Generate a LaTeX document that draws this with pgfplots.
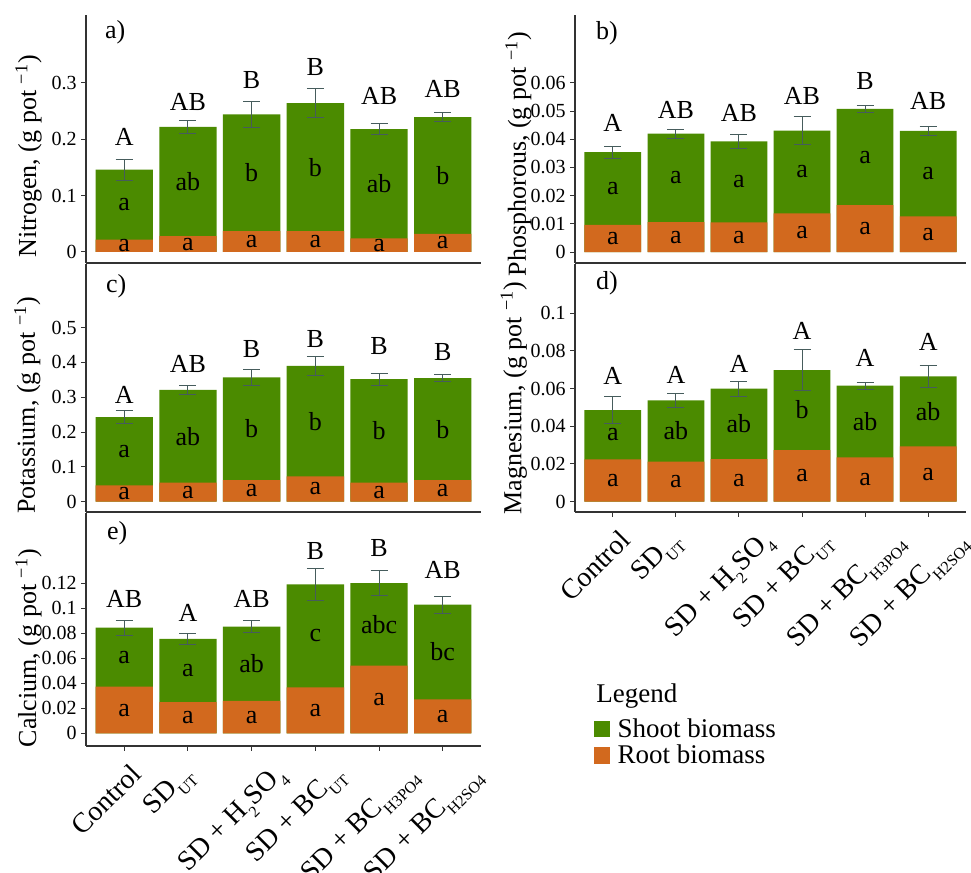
\documentclass[border=0pt]{standalone}
\usepackage{fontspec}
\setmainfont{Liberation Serif}
\usepackage{graphicx}
\usepackage{pgfplots}
\usepackage{pgfplotstable}
\pgfplotsset{compat=1.18}

\definecolor{shoot}{HTML}{4B8B00}
\definecolor{root}{HTML}{D2691E}
\definecolor{errc}{HTML}{465C5C}
\definecolor{axc}{HTML}{333333}

% x  total  root  err  capy  cap  shoot  rl
\pgfplotstableread{
x total root err capy cap shoot rl
1 0.146 0.022 0.0185 0.188 A  a  a
2 0.222 0.028 0.0115 0.251 AB ab a
3 0.244 0.037 0.0225 0.290 B  b  a
4 0.264 0.037 0.0255 0.313 B  b  a
5 0.218 0.024 0.0100 0.262 AB ab a
6 0.239 0.032 0.0085 0.274 AB b  a
}\nitrogen

\pgfplotstableread{
x total root err capy cap shoot rl
1 0.0354 0.0096 0.00220 0.0427 A  a a
2 0.0420 0.0106 0.00155 0.0475 AB a a
3 0.0393 0.0105 0.00255 0.0463 AB a a
4 0.0431 0.0137 0.00500 0.0525 AB a a
5 0.0508 0.0166 0.00135 0.0577 B  a a
6 0.0430 0.0126 0.00165 0.0506 AB a a
}\phosphorus

\pgfplotstableread{
x total root err capy cap shoot rl
1 0.243 0.047 0.0190 0.283 A  a  a
2 0.321 0.055 0.0130 0.372 AB ab a
3 0.357 0.062 0.0225 0.414 B  b  a
4 0.390 0.073 0.0270 0.444 B  b  a
5 0.352 0.055 0.0170 0.423 B  b  a
6 0.355 0.062 0.0105 0.405 B  b  a
}\potassium

\pgfplotstableread{
x total root err capy cap shoot rl
1 0.0486 0.0224 0.0069 0.0622 A a  a
2 0.0537 0.0212 0.0037 0.0627 A ab a
3 0.0599 0.0226 0.0039 0.0684 A ab a
4 0.0698 0.0274 0.0108 0.0860 A b  a
5 0.0615 0.0235 0.0019 0.0716 A ab a
6 0.0664 0.0293 0.0059 0.0804 A ab a
}\magnesium

\pgfplotstableread{
x total root err capy cap shoot rl
1 0.0843 0.0372 0.0058 0.1005 AB a   a
2 0.0755 0.0250 0.0045 0.0891 A  a   a
3 0.0851 0.0260 0.0047 0.1005 AB ab  a
4 0.1189 0.0367 0.0130 0.1391 B  c   a
5 0.1200 0.0540 0.0101 0.1410 B  abc a
6 0.1027 0.0271 0.0068 0.1237 AB bc  a
}\calcium

\newcommand\lab{\fontsize{13}{15}\selectfont}
\newcommand\sub[1]{\raisebox{-0.3em}{\fontsize{8}{8}\selectfont #1}}

\pgfplotsset{
  panel/.style={
    scale only axis, xmin=0.4, xmax=6.6,
    axis x line*=bottom, axis y line*=left,
    axis line style={line width=0.6pt, draw=axc},
    tick align=outside, major tick length=2.5pt,
    every tick/.style={line width=0.5pt, draw=axc},
    scaled y ticks=false,
    yticklabel style={font=\fontsize{10}{12}\selectfont, inner sep=2pt},
    ylabel style={font=\lab, inner sep=0pt, anchor=south},
    clip=false, xtick=\empty,
  },
  % y label position: #1 across, #2 along the axis
  ylabpos/.style 2 args={ylabel style={at={(axis description cs:#1,#2)}}},
  treatments/.style={
    xtick={1,...,6},
    xticklabels={
      \rotatebox{45}{Control},
      \rotatebox{45}{SD\sub{UT}},
      \rotatebox{45}{SD + H\sub{2}SO\sub{4}},
      \rotatebox{45}{SD + BC\sub{UT}},
      \rotatebox{45}{SD + BC\sub{H3PO4}},
      \rotatebox{45}{SD + BC\sub{H2SO4}}},
    xticklabel style={font=\fontsize{14}{16}\selectfont, anchor=north,
      inner sep=0pt, xshift=-9pt, yshift=-5.5pt},
  },
  sqlegend/.style={legend image code/.code={%
      \fill[##1] (0pt,-3pt) rectangle (8.2pt,5.2pt);}},
}

% stacked shoot/root bars, error bars and letter groups of one nutrient
\newcommand\drawpanel[1]{%
  \addplot[ybar, bar width=0.9, bar shift=0pt, fill=shoot, draw=none, sqlegend,
    error bars/.cd, y dir=both, y explicit,
    error bar style={line width=0.5pt, errc},
    error mark options={rotate=90, mark size=4.25pt, line width=0.5pt, errc}]
    table[x=x, y=total, y error=err] {#1};
  \addplot[ybar, bar width=0.9, bar shift=0pt, fill=root, draw=none, sqlegend]
    table[x=x, y=root] {#1};
  \addplot[draw=none, forget plot, nodes near coords, point meta=explicit symbolic,
    nodes near coords style={anchor=base, font=\lab, inner sep=0pt}]
    table[x=x, y=capy, meta=cap] {#1};
  \addplot[draw=none, forget plot, nodes near coords, point meta=explicit symbolic,
    nodes near coords style={anchor=center, font=\lab, inner sep=0pt}]
    table[x=x, y expr={(\thisrow{total}+\thisrow{root})/2}, meta=shoot] {#1};
  \addplot[draw=none, forget plot, nodes near coords, point meta=explicit symbolic,
    nodes near coords style={anchor=center, font=\lab, inner sep=0pt}]
    table[x=x, y expr={\thisrow{root}/2}, meta=rl] {#1};
}

\begin{document}
\begin{tikzpicture}
\useasboundingbox (0,0) rectangle (485.5pt,436.5pt);

% a) nitrogen
\begin{axis}[panel, ylabpos={-0.111}{0.43}, at={(43pt,305pt)}, anchor=south west,
  width=197.5pt, height=124pt, ymin=-0.0195, ymax=0.4202,
  ytick={0,0.1,0.2,0.3}, yticklabels={0,0.1,0.2,0.3},
  ylabel={Nitrogen, (g pot \textsuperscript{−1})}]
  \drawpanel{\nitrogen}
  \node[anchor=base west, font=\lab] at (rel axis cs:0,1) [xshift=6pt, yshift=-12pt] {a)};
\end{axis}

% b) phosphorus
\begin{axis}[panel, ylabpos={-0.11}{0.44}, at={(287.5pt,305pt)}, anchor=south west,
  width=195.5pt, height=124pt, ymin=-0.0039, ymax=0.0841,
  ytick={0,0.01,0.02,0.03,0.04,0.05,0.06},
  yticklabels={0,0.01,0.02,0.03,0.04,0.05,0.06},
  ylabel={Phosphorous, (g pot \textsuperscript{−1})}]
  \drawpanel{\phosphorus}
  \node[anchor=base west, font=\lab] at (rel axis cs:0,1) [xshift=7pt, yshift=-12pt] {b)};
\end{axis}

% c) potassium
\begin{axis}[panel, ylabpos={-0.114}{0.43}, at={(43pt,180.5pt)}, anchor=south west,
  width=197.5pt, height=124pt, ymin=-0.0296, ymax=0.683,
  ytick={0,0.1,0.2,0.3,0.4,0.5}, yticklabels={0,0.1,0.2,0.3,0.4,0.5},
  ylabel={Potassium, (g pot \textsuperscript{−1})}]
  \drawpanel{\potassium}
  \node[anchor=base west, font=\lab] at (rel axis cs:0,1) [xshift=6.5pt, yshift=-14.5pt] {c)};
\end{axis}

% d) magnesium, with the legend below it
\begin{axis}[panel, ylabpos={-0.122}{0.46}, treatments, at={(287.5pt,180.5pt)}, anchor=south west,
  width=195.5pt, height=124pt, ymin=-0.00546, ymax=0.126,
  ytick={0,0.02,0.04,0.06,0.08,0.1}, yticklabels={0,0.02,0.04,0.06,0.08,0.1},
  ylabel={Magnesium, (g pot \textsuperscript{−1})},
  legend style={at={(rel axis cs:0.0486,-0.831)}, anchor=north west,
    draw=none, fill=none, inner sep=0pt, outer sep=0pt, column sep=3.6pt,
    font=\fontsize{13.5}{15}\selectfont,
    nodes={inner sep=0pt, text height=9.5pt, text depth=3.65pt}},
  legend cell align=left]
  \drawpanel{\magnesium}
  \legend{Shoot biomass, Root biomass}
  \node[anchor=base west, font=\lab] at (rel axis cs:0,1) [xshift=7pt, yshift=-13pt] {d)};
  \node[anchor=base west, font=\fontsize{13.5}{15}\selectfont, inner sep=0pt]
    at (rel axis cs:0.0537,-0.769) {Legend};
\end{axis}

% e) calcium
\begin{axis}[panel, ylabpos={-0.111}{0.42}, treatments, at={(43pt,63.5pt)}, anchor=south west,
  width=197.5pt, height=116.5pt, ymin=-0.0101, ymax=0.1759,
  ytick={0,0.02,0.04,0.06,0.08,0.1,0.12},
  yticklabels={0,0.02,0.04,0.06,0.08,0.1,0.12},
  ylabel={Calcium, (g pot \textsuperscript{−1})}]
  \drawpanel{\calcium}
  \node[anchor=base west, font=\lab] at (rel axis cs:0,1) [xshift=7pt, yshift=-13.5pt] {e)};
\end{axis}
\end{tikzpicture}
\end{document}
